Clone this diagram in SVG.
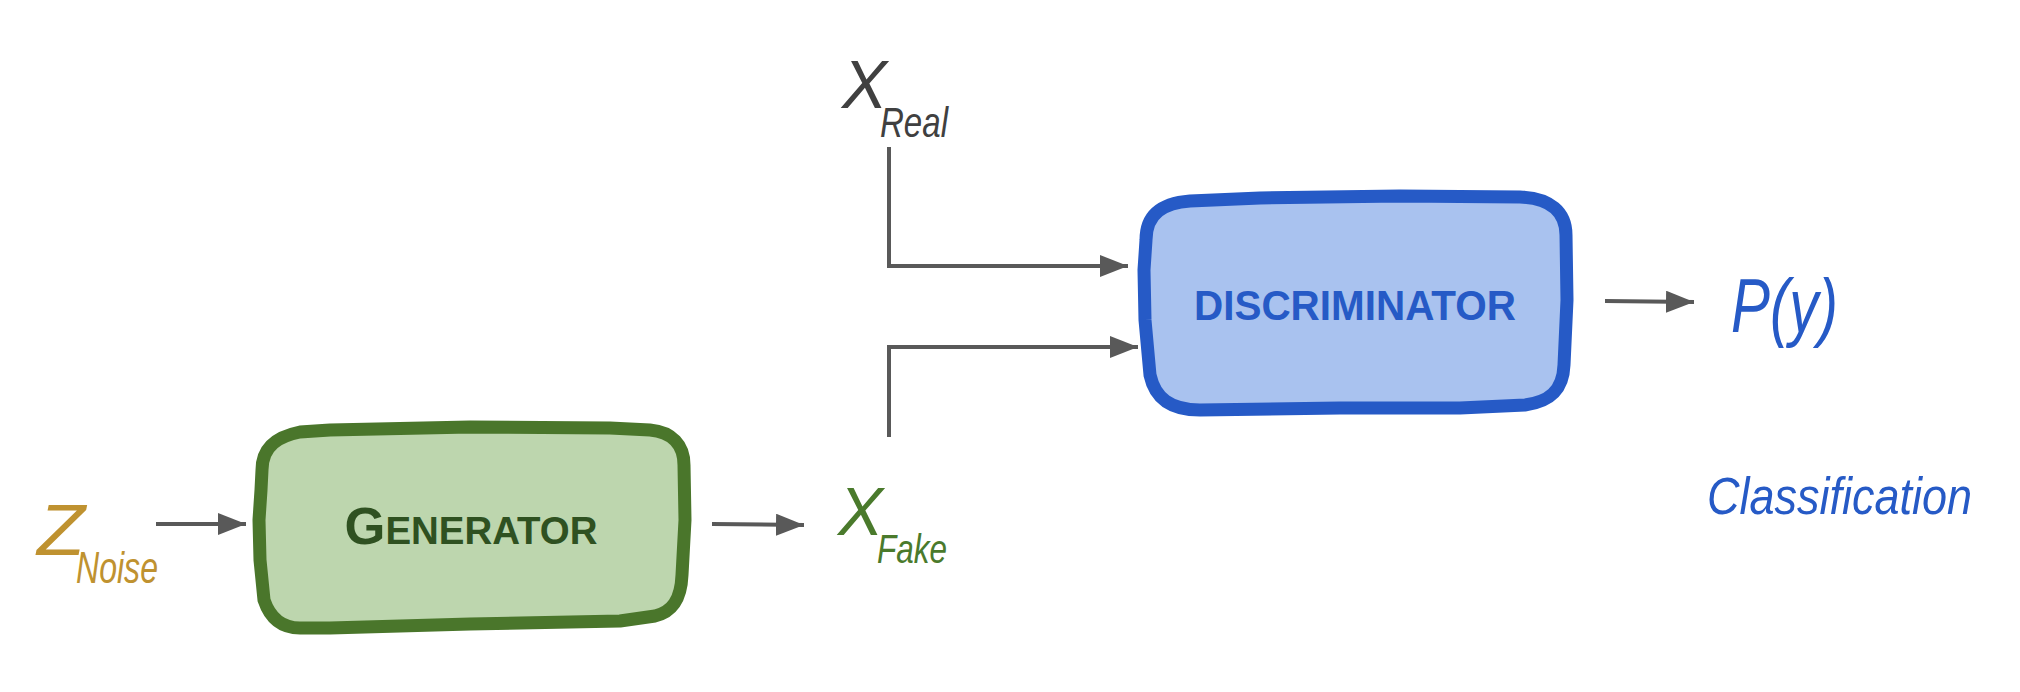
<svg xmlns="http://www.w3.org/2000/svg" width="2020" height="692" viewBox="0 0 2020 692">
<style>
.conn{fill:none;stroke:#595959;stroke-width:4}
.hand{font-family:"Liberation Sans","DejaVu Sans",sans-serif;font-style:italic}
.box-text{font-family:"Liberation Sans","DejaVu Sans",sans-serif;font-weight:bold;text-anchor:middle}
</style>
<defs>
<marker id="arr" markerUnits="userSpaceOnUse" markerWidth="28" markerHeight="22" refX="28" refY="11" orient="auto">
<path d="M0,0 L28,11 L0,22 Z" fill="#595959"/>
</marker>
</defs>
<rect width="2020" height="692" fill="#ffffff"/>
<g id="connectors">
<line class="conn" x1="156" y1="524" x2="246" y2="524" marker-end="url(#arr)"/>
<line class="conn" x1="712" y1="524" x2="804" y2="525" marker-end="url(#arr)"/>
<path class="conn" d="M889,147 V266 H1128" marker-end="url(#arr)"/>
<path class="conn" d="M889,437 V347 H1138" marker-end="url(#arr)"/>
<line class="conn" x1="1605" y1="301" x2="1694" y2="302" marker-end="url(#arr)"/>
</g>
<g id="z-noise">
<text class="hand" x="37" y="555" font-size="72" fill="#bf9230" textLength="48" lengthAdjust="spacingAndGlyphs">Z</text>
<text class="hand" x="76" y="583" font-size="44" fill="#bf9230" textLength="82" lengthAdjust="spacingAndGlyphs">Noise</text>
</g>
<g id="generator">
<path d="M262,470 C262,445 280,436 300,432 L330,430 L470,427 L610,428 L650,430 C672,432 684,445 684,465 L685,520 L682,575 C681,600 672,612 655,616 L620,621 L470,624 L330,628 L300,628 C282,628 270,618 264,600 L260,560 L259,520 L261,490 Z" fill="#bdd6ae" stroke="#4a762b" stroke-width="13" stroke-linejoin="round"/>
<text class="box-text" x="471" y="544" fill="#2f5121" textLength="253" lengthAdjust="spacingAndGlyphs"><tspan font-size="52">G</tspan><tspan font-size="38">ENERATOR</tspan></text>
</g>
<g id="x-fake">
<text class="hand" x="838" y="535" font-size="68" fill="#4a7a2c" textLength="45" lengthAdjust="spacingAndGlyphs">X</text>
<text class="hand" x="877" y="563" font-size="40" fill="#4a7a2c" textLength="70" lengthAdjust="spacingAndGlyphs">Fake</text>
</g>
<g id="x-real">
<text class="hand" x="842" y="108" font-size="68" fill="#404040" textLength="45" lengthAdjust="spacingAndGlyphs">X</text>
<text class="hand" x="880" y="137" font-size="42" fill="#404040" textLength="68" lengthAdjust="spacingAndGlyphs">Real</text>
</g>
<g id="discriminator">
<path d="M1146,240 C1146,212 1165,203 1190,201 L1260,198 L1400,196 L1520,197 C1550,198 1566,212 1566,235 L1567,300 L1564,365 C1563,392 1548,402 1525,405 L1460,408 L1340,408 L1200,410 C1170,410 1155,398 1150,375 L1145,320 L1144,270 Z" fill="#a9c2ef" stroke="#265ac6" stroke-width="13" stroke-linejoin="round"/>
<text class="box-text" x="1355" y="320" font-size="42" fill="#265ac6" textLength="322" lengthAdjust="spacingAndGlyphs">DISCRIMINATOR</text>
</g>
<g id="p-y">
<text class="hand" x="1731" y="332" font-size="76" fill="#265ac6" textLength="107" lengthAdjust="spacingAndGlyphs">P(y)</text>
</g>
<g id="classification">
<text class="hand" x="1707" y="514" font-size="52" fill="#265ac6" textLength="265" lengthAdjust="spacingAndGlyphs">Classification</text>
</g>
</svg>
